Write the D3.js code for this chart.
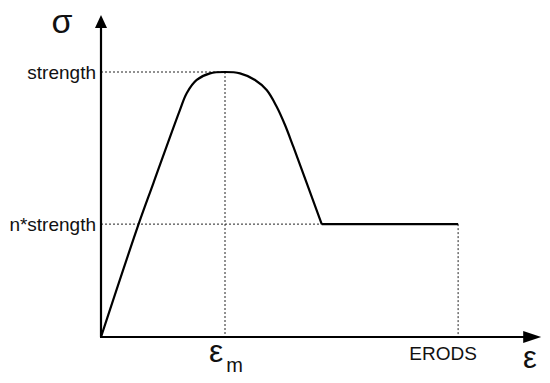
<!DOCTYPE html>
<html>
<head>
<meta charset="utf-8">
<script src="https://cdn.jsdelivr.net/npm/d3@7"></script>
<style>
  body { margin: 0; background: #fff; }
  svg text { font-family: "Liberation Sans", Arial, sans-serif; fill: #111; }
</style>
</head>
<body>
<script>
const width = 550;
const height = 383;

// strain in units of eps_m, stress in units of strength
const curveStrain = [0, 0.301, 0.422, 0.637, 0.691, 0.772, 0.879, 1, 1.121, 1.242, 1.336, 1.417, 1.484, 1.551, 1.78];
const curveStress = [0, 0.423, 0.58, 0.857, 0.92, 0.97, 0.995, 1, 0.995, 0.97, 0.932, 0.869, 0.8, 0.718, 0.426];
const n = 0.426;
const epsM = 1;
const erods = 2.88;
const strength = 1;
const yTickValues = [strength, n * strength];
const yTickLabels = ["strength", "n*strength"];
const xMax = 3.55;
const yMax = 1.215;

const x = d3.scaleLinear().domain([0, 1]).range([101, 225]);
const y = d3.scaleLinear().domain([0, 1]).range([337, 72]);

const svg = d3
  .select("body")
  .append("svg")
  .attr("width", width)
  .attr("height", height);

// dotted guides
const guides = [
  [[0, strength], [epsM, strength]],
  [[epsM, strength], [epsM, 0]],
  [[0, n * strength], [erods, n * strength]],
  [[erods, n * strength], [erods, 0]],
];
svg
  .append("g")
  .selectAll("line")
  .data(guides)
  .join("line")
  .attr("x1", (d) => x(d[0][0]))
  .attr("y1", (d) => y(d[0][1]))
  .attr("x2", (d) => x(d[1][0]))
  .attr("y2", (d) => y(d[1][1]))
  .attr("stroke", "#222")
  .attr("stroke-width", 1)
  .attr("stroke-dasharray", "2,2");

// stress-strain curve
const pts = curveStrain.map((s, i) => [s, curveStress[i]]);
const line = d3
  .line()
  .x((d) => x(d[0]))
  .y((d) => y(d[1]));

svg
  .append("path")
  .attr("d", line.curve(d3.curveCatmullRom.alpha(0.5))(pts))
  .attr("fill", "none")
  .attr("stroke", "#000")
  .attr("stroke-width", 2.2);

svg
  .append("path")
  .attr("d", line.curve(d3.curveLinear)([[curveStrain[curveStrain.length - 1], n * strength], [erods, n * strength]]))
  .attr("fill", "none")
  .attr("stroke", "#000")
  .attr("stroke-width", 2.2);

// axes with arrows
svg
  .append("line")
  .attr("x1", x(0)).attr("y1", y(0))
  .attr("x2", x(0)).attr("y2", y(yMax) + 10)
  .attr("stroke", "#000").attr("stroke-width", 2.2);
svg
  .append("line")
  .attr("x1", x(0) - 1).attr("y1", y(0))
  .attr("x2", x(xMax) - 10).attr("y2", y(0))
  .attr("stroke", "#000").attr("stroke-width", 2.2);

svg
  .append("path")
  .attr("d", `M${x(0)},${y(yMax)} L${x(0) - 6},${y(yMax) + 13} L${x(0) + 6},${y(yMax) + 13} Z`)
  .attr("fill", "#000");
svg
  .append("path")
  .attr("d", `M${x(xMax)},${y(0)} L${x(xMax) - 18},${y(0) - 6} L${x(xMax) - 18},${y(0) + 6} Z`)
  .attr("fill", "#000");

// y tick labels
const yAxis = d3
  .axisLeft(y)
  .tickValues(yTickValues)
  .tickFormat((d, i) => yTickLabels[i])
  .tickSize(0)
  .tickPadding(5);

const ga = svg.append("g").attr("transform", `translate(${x(0)},0)`).call(yAxis);
ga.select(".domain").remove();
ga.selectAll("text")
  .attr("font-size", 19)
  .attr("font-family", "Liberation Sans, Arial, sans-serif")
  .attr("fill", "#111");

// axis symbols
svg.append("text")
  .attr("x", 62).attr("y", 33)
  .attr("text-anchor", "middle")
  .attr("font-size", 34)
  .text("σ");

svg.append("text")
  .attr("x", 530).attr("y", 368)
  .attr("text-anchor", "middle")
  .attr("font-size", 31)
  .text("ε");

const em = svg.append("text")
  .attr("x", x(epsM) - 16).attr("y", 362)
  .attr("font-size", 32);
em.append("tspan").text("ε");
em.append("tspan").attr("font-size", 20).attr("dx", 3).attr("dy", 10).text("m");

svg.append("text")
  .attr("x", x(erods) - 15).attr("y", 360)
  .attr("text-anchor", "middle")
  .attr("font-size", 19)
  .text("ERODS");
</script>
</body>
</html>
